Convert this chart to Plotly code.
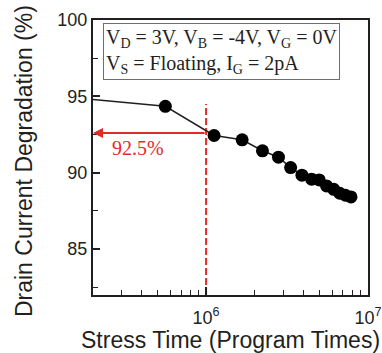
import math
import plotly.graph_objects as go

# ---- data ----
stress_times = [2.0e5, 5.6e5, 1.12e6, 1.67e6, 2.23e6, 2.80e6, 3.33e6, 3.91e6,
                4.49e6, 5.0e6, 5.55e6, 6.15e6, 6.70e6, 7.26e6, 7.86e6]
drain_degradation = [94.8, 94.35, 92.44, 92.16, 91.44, 91.02, 90.34, 89.84,
                     89.58, 89.53, 89.14, 88.92, 88.66, 88.53, 88.42]
marker_shown = [False] + [True] * (len(stress_times) - 1)

ref_time = 1e6
ref_level = 92.6
ref_line_top = 94.5
ref_label = "92.5%"

x_range = [2e5, 1e7]
y_range = [82, 100]
y_major = [85, 90, 95, 100]
x_major = [1e6, 1e7]
x_major_text = ["10<sup>6</sup>", "10<sup>7</sup>"]
x_minor = [3e5, 4e5, 5e5, 6e5, 7e5, 8e5, 9e5, 2e6, 3e6, 4e6, 5e6, 6e6, 7e6, 8e6, 9e6]

dark = "#231f20"
red = "#e32b25"

fig = go.Figure()

fig.add_trace(go.Scatter(
    x=[ref_time, ref_time], y=[y_range[0], ref_line_top],
    mode="lines", line=dict(color=red, width=2, dash="7px,3px"),
    hoverinfo="skip", showlegend=False))

fig.add_trace(go.Scatter(
    x=stress_times, y=drain_degradation, mode="lines+markers",
    line=dict(color=dark, width=1.5),
    marker=dict(color="#000000", opacity=1,
                size=[13 if s else 0 for s in marker_shown],
                line=dict(width=0)),
    showlegend=False))

tickfont = dict(family="Liberation Sans, Arial, sans-serif", size=18, color=dark)
titlefont = dict(family="Liberation Sans, Arial, sans-serif", size=23, color=dark)
serif = dict(family="Liberation Serif, Times New Roman, serif", size=20, color=dark)

fig.update_layout(
    width=382, height=353,
    margin=dict(l=93, r=14, t=20, b=58),
    paper_bgcolor="white", plot_bgcolor="white",
    xaxis=dict(type="log", automargin=False,
               range=[math.log10(x_range[0]), math.log10(x_range[1]) + 0.0005],
               tickmode="array", tickvals=x_major, ticktext=x_major_text,
               ticks="inside", ticklen=8, ticklabelstandoff=5,
               tickwidth=1.5, tickcolor=dark, showline=True, linecolor=dark,
               linewidth=2, mirror=True, showgrid=False, zeroline=False,
               tickfont=tickfont,
               minor=dict(tickvals=x_minor, ticks="inside", ticklen=5,
                          tickwidth=1.2, tickcolor=dark, showgrid=False)),
    yaxis=dict(range=y_range, tickvals=y_major, ticks="inside", ticklen=7,
               automargin=False,
               tickwidth=1.5, tickcolor=dark, showline=True, linecolor=dark,
               linewidth=2, mirror=True, showgrid=False, zeroline=False,
               tickfont=tickfont,
               minor=dict(dtick=2.5, tick0=0, ticks="inside", ticklen=5,
                          tickwidth=1.2, tickcolor=dark, showgrid=False)),
)

annotations = [
    dict(text="Stress Time (Program Times)", xref="paper", yref="paper",
         x=0.5, y=-0.164, xanchor="center", yanchor="middle",
         showarrow=False, font=titlefont),
    dict(text="Drain Current Degradation (%)", xref="paper", yref="paper",
         x=-0.251, y=0.487, xanchor="center", yanchor="middle", textangle=-90,
         showarrow=False, font=titlefont),
    dict(text="V<sub>D</sub> = 3V, V<sub>B</sub> = -4V, V<sub>G</sub> = 0V<br>"
              "V<sub>S</sub> = Floating, I<sub>G</sub> = 2pA",
         xref="paper", yref="paper", x=0.036, y=0.99, xanchor="left",
         yanchor="top", align="left", showarrow=False, font=serif,
         bordercolor="#6d6e70", borderwidth=1, borderpad=2, bgcolor="white"),
    dict(text="", xref="x", yref="y", axref="x", ayref="y",
         x=math.log10(x_range[0]), y=ref_level,
         ax=math.log10(ref_time), ay=ref_level,
         showarrow=True, arrowhead=2, arrowsize=1, arrowwidth=2,
         arrowcolor=red, standoff=0, startstandoff=0),
    dict(text=ref_label, xref="x", yref="y",
         x=math.log10(3.78e5), y=91.6, xanchor="center", yanchor="middle",
         showarrow=False, font=dict(family="Liberation Serif, Times New Roman, serif",
                                    size=20, color=red)),
]
fig.update_layout(annotations=annotations)

fig.write_html("out.html")
